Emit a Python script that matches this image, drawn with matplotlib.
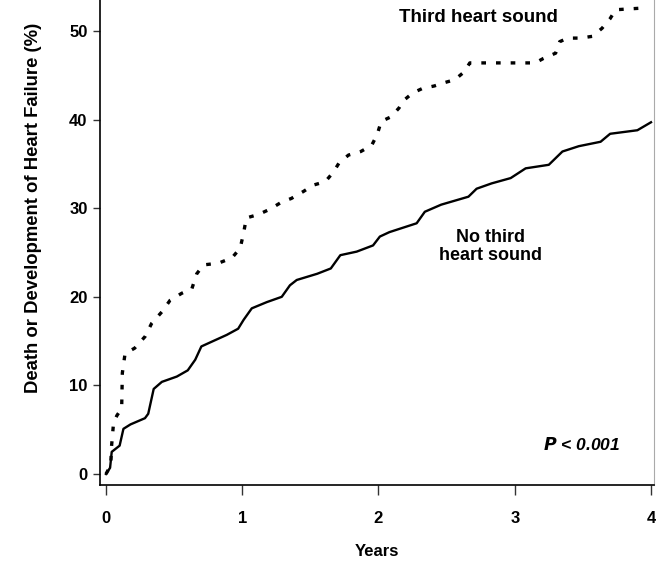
import matplotlib
matplotlib.use("Agg")
import matplotlib.pyplot as plt

plt.rcParams['font.family'] = ['Liberation Sans', 'DejaVu Sans']

# No third heart sound (solid)
no_s3_years = [0, 0.03, 0.042, 0.10, 0.128, 0.18, 0.286, 0.31, 0.35, 0.41,
               0.52, 0.60, 0.655, 0.70, 0.80, 0.886, 0.97, 1.01, 1.07, 1.18,
               1.29, 1.35, 1.40, 1.55, 1.65, 1.72, 1.84, 1.96, 2.01, 2.08,
               2.28, 2.34, 2.46, 2.66, 2.72, 2.83, 2.97, 3.08, 3.25, 3.35,
               3.47, 3.63, 3.70, 3.90, 4.0]
no_s3_pct = [0, 0.7, 2.5, 3.2, 5.1, 5.6, 6.3, 6.8, 9.6, 10.4,
             11.0, 11.7, 12.9, 14.4, 15.1, 15.7, 16.4, 17.4, 18.7, 19.4,
             20.0, 21.3, 21.9, 22.6, 23.2, 24.7, 25.1, 25.8, 26.8, 27.3,
             28.3, 29.6, 30.4, 31.3, 32.2, 32.8, 33.4, 34.5, 34.9, 36.4,
             37.0, 37.5, 38.4, 38.8, 39.7]

# Third heart sound (dotted)
s3_years = [0, 0.035, 0.04, 0.055, 0.08, 0.115, 0.12, 0.14, 0.21, 0.286,
            0.335, 0.41, 0.47, 0.556, 0.63, 0.666, 0.716, 0.826, 0.925, 0.985,
            1.01, 1.03, 1.12, 1.205, 1.29, 1.36, 1.45, 1.52, 1.61, 1.67,
            1.71, 1.78, 1.87, 1.95, 1.99, 2.02, 2.09, 2.15, 2.18, 2.25,
            2.32, 2.41, 2.49, 2.56, 2.63, 2.67, 3.15, 3.21, 3.30, 3.33,
            3.39, 3.48, 3.57, 3.64, 3.70, 3.74, 3.95]
s3_pct = [0, 1.0, 3.0, 5.7, 6.6, 7.4, 11.4, 13.6, 14.2, 15.5,
          17.0, 18.3, 19.6, 20.4, 20.9, 22.6, 23.6, 23.8, 24.4, 25.5,
          27.2, 28.9, 29.3, 29.9, 30.7, 31.1, 31.9, 32.6, 33.0, 34.1,
          35.1, 36.0, 36.4, 37.1, 38.3, 39.8, 40.3, 41.3, 42.1, 43.0,
          43.5, 43.8, 44.2, 44.5, 45.4, 46.4, 46.4, 46.9, 47.5, 48.8,
          49.2, 49.2, 49.4, 50.3, 51.4, 52.4, 52.6]

x_ticks = [0, 1, 2, 3, 4]
y_ticks = [0, 10, 20, 30, 40, 50]

fig = plt.figure(figsize=(6.56, 5.66), dpi=100)
ax = fig.add_axes([100 / 656, 81 / 566, 554 / 656, 485 / 566])

ax.plot(no_s3_years, no_s3_pct, color='black', lw=1.7, solid_joinstyle='round')
ax.plot(s3_years, s3_pct, color='black', lw=2.4,
        linestyle=(0, (1.4, 3.0)), dash_capstyle='butt')

ax.set_xlim(-0.044, 4.022)
ax.set_ylim(-1.24, 53.5)
ax.set_xticks(x_ticks)
ax.set_yticks(y_ticks)
ax.tick_params(axis='both', direction='out', width=1, color='#333333',
               labelsize=12)
ax.tick_params(axis='x', length=7, pad=12)
ax.tick_params(axis='y', length=5, pad=4)
for lab in ax.get_xticklabels() + ax.get_yticklabels():
    lab.set_fontweight('bold')

ax.spines['top'].set_visible(False)
ax.spines['right'].set_color('#aaaaaa')
ax.spines['right'].set_linewidth(0.8)
ax.spines['left'].set_linewidth(1.2)
ax.spines['bottom'].set_linewidth(1.2)

ax.set_xlabel('Years', fontsize=12, fontweight='bold')
ax.xaxis.set_label_coords(0.5, -0.122)
ax.set_ylabel('Death or Development of Heart Failure (%)', fontsize=13.3,
              fontweight='bold')
ax.yaxis.set_label_coords(-0.105, 0.571)

ax.text(2.73, 51.5, 'Third heart sound', fontsize=13.5, fontweight='bold',
        ha='center', va='center')
ax.text(2.82, 25.7, 'No third\nheart sound', fontsize=13, fontweight='bold',
        ha='center', va='center', linespacing=1.1)
ax.text(3.49, 3.3, r'$\mathbfit{P}$' + ' < 0.001', fontsize=12.5,
        fontweight='bold', style='italic', ha='center', va='center')

fig.savefig('out.png', dpi=100)
